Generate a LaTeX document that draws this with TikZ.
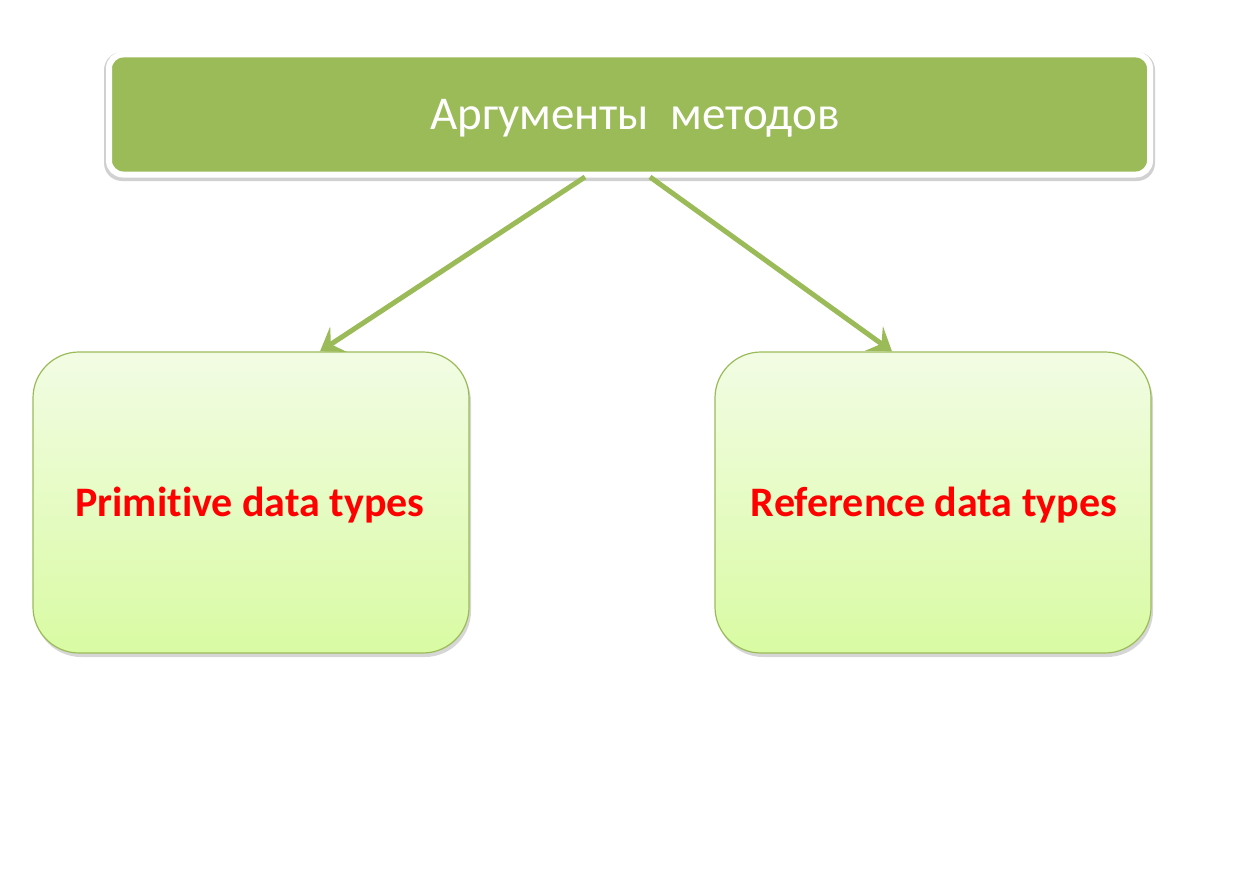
\documentclass[tikz,border=0pt]{standalone}
\usepackage{fontspec}
\setmainfont[Ligatures=NoCommon]{Carlito}
\usetikzlibrary{shadows,arrows.meta}
\definecolor{accgreen}{HTML}{9BBB59}
\definecolor{lighttop}{HTML}{F2FCE4}
\definecolor{lightbot}{HTML}{D9FBA3}
\definecolor{txtred}{HTML}{FF0000}
\tikzset{
  topshade/.style={fill=black!30, rounded corners=18pt, minimum width=1051pt,
    minimum height=129pt, inner sep=0pt, opacity=0.6},
  topbox/.style={draw=white, line width=6pt, fill=accgreen, rounded corners=14pt,
    minimum width=1041pt, minimum height=120pt, inner sep=0pt},
  toptxt/.style={text=white, font=\fontsize{47}{56}\selectfont},
  subbox/.style={draw=accgreen, line width=1.2pt, top color=lighttop, bottom color=lightbot,
    rounded corners=46pt, minimum width=436pt, minimum height=301pt, inner sep=0pt,
    drop shadow={shadow xshift=2pt, shadow yshift=-4pt, fill=black!40, opacity=0.4}},
  subtxt/.style={text=txtred, font=\bfseries\fontsize{42}{50}\selectfont},
  conn/.style={draw=accgreen, line width=5pt, -{Stealth[length=22pt,width=30pt,inset=9pt]}}
}
\begin{document}
\begin{tikzpicture}[x=1pt,y=-1pt]
\useasboundingbox (0,0) rectangle (1252,875);
\node[topshade] (topsh) at (629.5,116.5) {};
\node[topbox] (top) at (629.5,114.5) {};
\node[toptxt] (toptext) at (635,118) {Аргументы\ \ методов};
\node[subbox] (prim) at (251,502.5) {};
\node[subbox] (ref) at (933,502.5) {};
\node[subtxt] (primtext) at (250,505) {Primitive data types};
\node[subtxt] (reftext) at (934,505) {Reference data types};
\coordinate (s1) at (585,177);
\coordinate (s2) at (650,177);
\draw[conn] (s1) -- (prim.north -| 320,0);
\draw[conn] (s2) -- (ref.north -| 892,0);
\end{tikzpicture}
\end{document}
